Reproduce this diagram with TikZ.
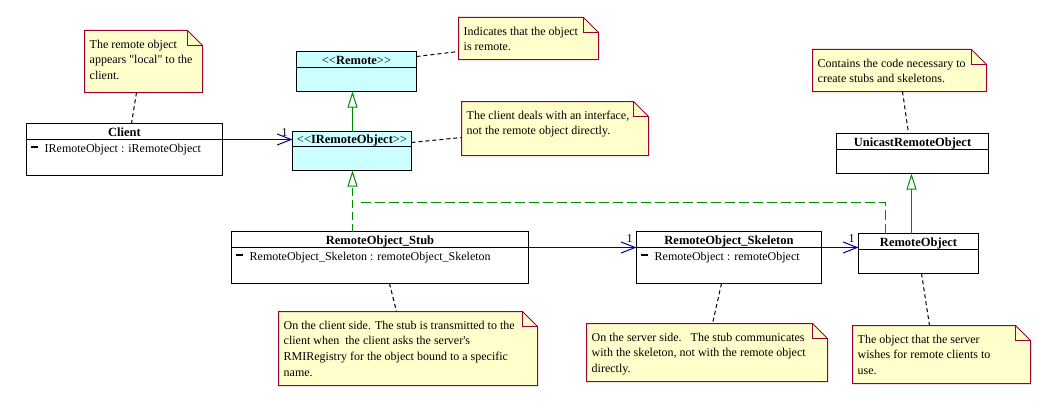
\documentclass[tikz,border=0pt]{standalone}
\usepackage{fontspec}
\newfontfamily\ufont{Liberation Serif}
\usetikzlibrary{arrows.meta}
\definecolor{notefill}{RGB}{255,255,204}
\definecolor{noteline}{RGB}{153,0,51}
\definecolor{ifill}{RGB}{204,255,255}
\definecolor{assoccol}{RGB}{0,0,160}
\definecolor{gencol}{RGB}{0,140,0}

\newcommand\umlclass[8]{% name,x,y,w,h,div,fill,title
  \node[box, fill=#7, minimum width=#4pt, minimum height=#5pt] (#1) at (#2,#3) {};
  \draw[line width=1pt] ([yshift=-#6pt]#1.north west) -- ([yshift=-#6pt]#1.north east);
  \node[ttl] (#1-title) at ([yshift=-#6pt+3pt]#1.north) {#8};
}
\newcommand\umlattr[3]{% class, div, text
  \fill ([xshift=4pt,yshift=-#2pt-6pt]#1.north west) rectangle ([xshift=11pt,yshift=-#2pt-8pt]#1.north west);
  \node[attrtxt] (#1-attr) at ([xshift=18pt,yshift=-#2pt-13pt]#1.north west) {#3};
}
\newcommand\umlnote[6]{% name,x,y,w,h,text
  \node[notebox, minimum width=#4pt, minimum height=#5pt] (#1) at (#2,#3) {};
  \draw[noteedge] (#1.north west) -- ([xshift=-15pt]#1.north east) -- ([yshift=-15pt]#1.north east) -- (#1.south east) -- (#1.south west) -- cycle;
  \draw[draw=noteline, line width=1pt] ([xshift=-15pt]#1.north east) -- ([xshift=-15pt,yshift=-15pt]#1.north east) -- ([yshift=-15pt]#1.north east);
  \node[notetxt] (#1-text) at ([xshift=5pt,yshift=-9pt]#1.north west) {#6};
}

\begin{document}
\begin{tikzpicture}[x=1pt,y=-1pt,
  box/.style={draw=black, line width=1pt, inner sep=0pt, outer sep=0pt, anchor=north west},
  ttl/.style={font=\ufont\fontsize{12.5}{14}\selectfont\bfseries, inner sep=0pt, anchor=base},
  attrtxt/.style={font=\ufont\fontsize{12}{14}\selectfont, inner sep=0pt, anchor=base west},
  notebox/.style={inner sep=0pt, outer sep=0pt, anchor=north west},
  noteedge/.style={draw=noteline, line width=1pt, fill=notefill, line join=miter},
  notetxt/.style={font=\ufont\fontsize{12}{15.7}\selectfont, inner sep=0pt, anchor=north west, align=left},
  assocline/.style={color=assoccol, line width=1pt, -{Straight Barb[length=14pt,width=11pt,line width=1pt]}},
  genline/.style={color=gencol, line width=1pt, -{Triangle[open,length=16pt,width=10pt,line width=1pt]}},
  realline/.style={genline, dash pattern=on 8pt off 4pt},
  anchorline/.style={color=black, line width=1pt, dash pattern=on 4pt off 3pt},
  mult/.style={font=\ufont\fontsize{12}{14}\selectfont, inner sep=0pt, anchor=base},
]
\useasboundingbox[fill=white] (0.5,0.5) rectangle (1038.5,404.5);

% notes
\umlnote{n1}{85}{31}{118}{62}{The remote object\\ appears "local" to the\\ client.}
\umlnote{n2}{459}{18}{140}{42}{Indicates that the object\\ is remote.}
\umlnote{n3}{462}{102}{187}{54}{The client deals with an interface,\\ not the remote object directly.}
\umlnote{n4}{813}{50}{174}{42}{Contains the code necessary to\\ create stubs and skeletons.}
\umlnote{n5}{279}{312}{259}{74}{On the client side. The stub is transmitted to the\\ client when\ \ the client asks the server's\\ RMIRegistry for the object bound to a specific\\ name.}
\umlnote{n6}{587}{324}{241}{58}{On the server side.\ \ \ The stub communicates\\ with the skeleton, not with the remote object\\ directly.}
\umlnote{n7}{853}{326}{178}{58}{The object that the server\\ wishes for remote clients to\\ use.}

% classes
\umlclass{client}{27}{124}{196}{52}{16}{white}{Client}
\umlattr{client}{16}{IRemoteObject : iRemoteObject}
\umlclass{remote}{297}{52}{120}{40}{16}{ifill}{{\mdseries<}{\mdseries<}Remote{\mdseries>}{\mdseries>}}
\umlclass{iro}{293}{132}{119}{39}{15}{ifill}{{\mdseries<}{\mdseries<}IRemoteObject{\mdseries>}{\mdseries>}}
\umlclass{unicast}{837}{134}{152}{40}{16}{white}{UnicastRemoteObject}
\umlclass{stub}{232}{232}{297}{52}{16}{white}{RemoteObject\_Stub}
\umlattr{stub}{16}{RemoteObject\_Skeleton : remoteObject\_Skeleton}
\umlclass{skel}{637}{232}{185}{52}{16}{white}{RemoteObject\_Skeleton}
\umlattr{skel}{16}{RemoteObject : remoteObject}
\umlclass{robj}{859}{234}{120}{40}{16}{white}{RemoteObject}

% associations
\draw[assocline] ([yshift=-16pt]client.north east) -- ([yshift=-8pt]iro.north west);
\node[mult] (m1) at ([xshift=-8pt,yshift=-5pt]iro.north west) {1};
\draw[assocline] ([yshift=-16pt]stub.north east) -- ([yshift=-16pt]skel.north west);
\node[mult] (m2) at ([xshift=-7pt,yshift=-11pt]skel.north west) {1};
\draw[assocline] ([yshift=-16pt]skel.north east) -- ([yshift=-14pt]robj.north west);
\node[mult] (m3) at ([xshift=-7pt,yshift=-9pt]robj.north west) {1};

% generalizations / realizations
\draw[genline] ([xshift=60pt]iro.north west) -- ([xshift=60pt]iro.north west |- remote.south);
\draw[genline] ([xshift=53pt]robj.north west) -- ([xshift=53pt]robj.north west |- unicast.south);
\draw[realline] ([xshift=121pt]stub.north west) -- ([xshift=121pt]stub.north west |- iro.south);
\coordinate (rjoin) at (360,203);
\draw[color=gencol, line width=1pt, dash pattern=on 10pt off 4pt] ([xshift=27pt]robj.north west) |- (rjoin);

% note anchors
\draw[anchorline] ([xshift=52pt]n1.south west) -- ([xshift=105pt]client.north west);
\draw[anchorline] ([yshift=-5pt]remote.north east) -- ([yshift=-34pt]n2.north west);
\draw[anchorline] ([yshift=-11pt]iro.north east) -- ([yshift=-36pt]n3.north west);
\draw[anchorline] ([xshift=90pt]n4.south west) -- ([xshift=72pt]unicast.north west);
\draw[anchorline] ([xshift=158pt]stub.south west) -- ([xshift=118pt]n5.north west);
\draw[anchorline] ([xshift=85pt]skel.south west) -- ([xshift=126pt]n6.north west);
\draw[anchorline] ([xshift=63pt]robj.south west) -- ([xshift=77pt]n7.north west);
\end{tikzpicture}
\end{document}
